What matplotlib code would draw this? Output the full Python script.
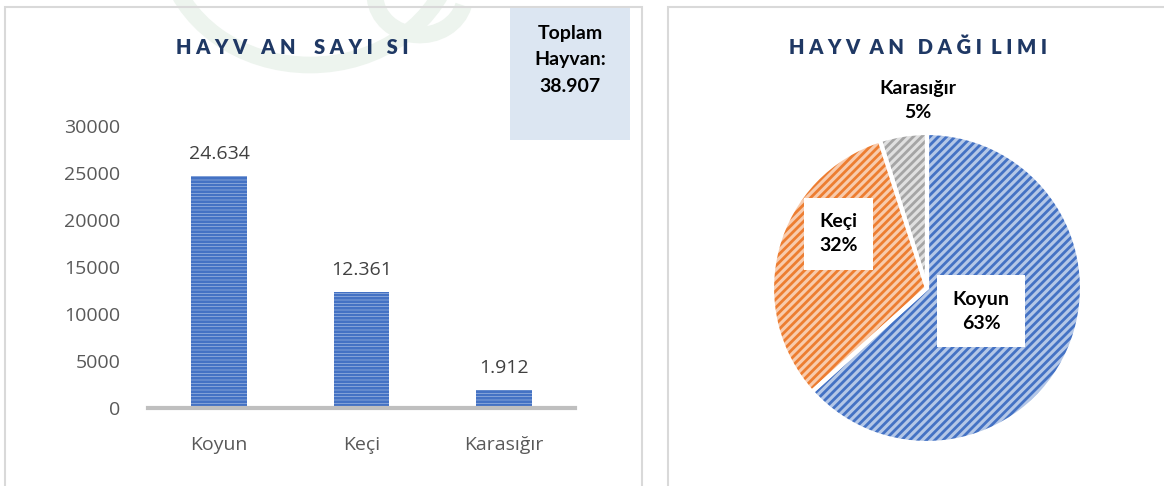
import matplotlib.pyplot as plt
from matplotlib.patches import Rectangle, Arc
import matplotlib as mpl

plt.rcParams['font.family'] = ['Open Sans', 'DejaVu Sans']

# veriler
kategoriler = ["Koyun", "Keçi", "Karasığır"]
sayilar = [24634, 12361, 1912]
bar_etiketleri = ["24.634", "12.361", "1.912"]
y_ticks = [0, 5000, 10000, 15000, 20000, 25000, 30000]
toplam_metin = "Toplam\nHayvan:\n38.907"

W, H = 1164, 486
fig = plt.figure(figsize=(W / 100, H / 100), dpi=100)


def fx(px):
    return px / W


def fy(py):
    return 1 - py / H


# filigran (soluk yesil kavisler)
for cx, cy, w, h, t1, t2 in [(310, -60, 290, 250, 200, 340), (420, -5, 90, 80, 190, 330)]:
    fig.add_artist(Arc((fx(cx), fy(cy)), fx(w), h / H, theta1=t1, theta2=t2,
                       transform=fig.transFigure, color="#EDF4EE", lw=12))

# panel kenarliklari
fig.add_artist(Rectangle((fx(5), fy(490)), fx(637), 483 / H, transform=fig.transFigure,
                         fill=False, ec="#D9D9D9", lw=1.5))
fig.add_artist(Rectangle((fx(668), fy(490)), fx(500), 483 / H, transform=fig.transFigure,
                         fill=False, ec="#D9D9D9", lw=1.5))

# toplam kutusu
fig.add_artist(Rectangle((fx(510), fy(140)), fx(120), 132 / H, transform=fig.transFigure,
                         fc="#DCE6F2", ec="none"))
fig.text(fx(570), fy(60), toplam_metin, ha="center", va="center", fontsize=14,
         fontweight="bold", family=["Lato", "DejaVu Sans"], linespacing=1.7, color="black")

# basliklar
baslik_font = dict(ha="center", va="center", fontsize=14.5, fontweight="heavy",
                   color="#1F3864", family=["Lato", "DejaVu Sans"])
fig.text(fx(292), fy(47), "H A Y V   A N    S A Y I   S I", **baslik_font)
fig.text(fx(918), fy(47), "H A Y V  A N   D A Ğ I  L I M I", **baslik_font)

# bar grafigi
ax = fig.add_axes([fx(148), fy(408), fx(427), 282 / H])
mpl.rcParams['hatch.linewidth'] = 2.0
x = range(len(kategoriler))
ax.bar(x, sayilar, width=0.39, color="#B4C7E7", edgecolor="#4472C4", hatch="-----", lw=0)
for xi, v, lab in zip(x, sayilar, bar_etiketleri):
    ax.text(xi, v + 1400, lab, ha="center", va="bottom", fontsize=14, color="#404040")
ax.set_xlim(-0.5, 2.5)
ax.set_ylim(0, 30000)
ax.set_yticks(y_ticks)
ax.set_yticklabels([str(t) for t in y_ticks])
ax.set_xticks(list(x))
ax.set_xticklabels(kategoriler)
ax.tick_params(axis="both", length=0, labelsize=14, labelcolor="#595959")
ax.tick_params(axis="y", pad=20)
ax.tick_params(axis="x", pad=20)
for s in ["top", "right", "left"]:
    ax.spines[s].set_visible(False)
ax.spines["bottom"].set_color("#BFBFBF")
ax.spines["bottom"].set_linewidth(3)
ax.patch.set_alpha(0)

# pasta grafigi
r = 155
pax = fig.add_axes([fx(927 - r), fy(288 + r), fx(2 * r), 2 * r / H])
renkler = ["#B4C7E7", "#F8CBAD", "#E0E0E0"]
cizgi = ["#4472C4", "#ED7D31", "#A5A5A5"]
wedges, _ = pax.pie(sayilar, startangle=90, counterclock=False, colors=renkler,
                    wedgeprops=dict(edgecolor="white", linewidth=3))
for w, c in zip(wedges, cizgi):
    w.set_hatch("////")
    w.set_edgecolor(c)
    w.set_linewidth(0)
# beyaz ayirici cizgiler icin ikinci katman
pax.pie(sayilar, startangle=90, counterclock=False, colors=["none"] * 3,
        wedgeprops=dict(edgecolor="white", linewidth=3, fill=False))
pax.set_xlim(-1, 1)
pax.set_ylim(-1, 1)
pax.set_aspect("equal")

yuzde = [round(v / sum(sayilar) * 100) for v in sayilar]
lab_font = dict(fontsize=14, fontweight="bold", family=["Lato", "DejaVu Sans"],
                ha="center", va="center", linespacing=1.5)
pax.text(0.35, -0.15, f"{kategoriler[0]}\n{yuzde[0]}%",
         bbox=dict(fc="white", ec="none", pad=11), **lab_font)
pax.text(-0.57, 0.35, f"{kategoriler[1]}\n{yuzde[1]}%",
         bbox=dict(fc="white", ec="none", pad=11), **lab_font)
pax.text(-0.06, 1.21, f"{kategoriler[2]}\n{yuzde[2]}%", clip_on=False, **lab_font)

fig.savefig("out.png", dpi=100)
